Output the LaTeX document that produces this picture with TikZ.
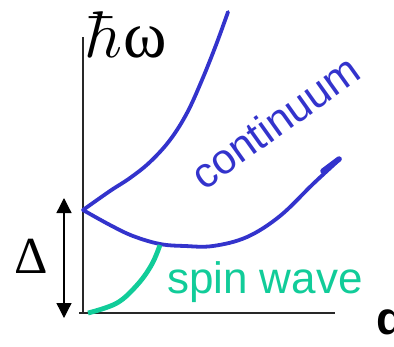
\documentclass[tikz,border=0pt]{standalone}
\usepackage{fontspec}
\newfontfamily\lsans{Liberation Sans}
\newfontfamily\lserif{Liberation Serif}
\usetikzlibrary{arrows.meta}
\definecolor{contblue}{RGB}{51,51,204}
\definecolor{swgreen}{RGB}{17,204,153}
\definecolor{axisgray}{RGB}{40,40,40}
\tikzset{
  axisline/.style={draw=axisgray,line width=1.3pt},
  contcurve/.style={draw=contblue,line width=3.8pt,line cap=round,line join=round},
  swcurve/.style={draw=swgreen,line width=4.8pt,line cap=butt},
  lbl/.style={inner sep=0pt,outer sep=0pt},
  gaparrow/.style={draw=black,line width=1.3pt,{Triangle[width=15pt,length=15pt]}-{Triangle[width=15pt,length=15pt]}}
}
\begin{document}
\begin{tikzpicture}[x=1pt,y=-1pt]
\useasboundingbox (0,0) rectangle (394,346);
% axes
\coordinate (ytop) at (83,37);
\coordinate (ybot) at (83,313);
\coordinate (xleft) at (79,313);
\coordinate (xright) at (335,313);
\draw[axisline] (ytop) -- (ybot);
\draw[axisline] (xleft) -- (xright);
% labels
\node[lbl,anchor=base west] (hw) at (84,57) {\scalebox{6.6}{$\hbar$}\hspace{1pt}{\fontsize{66}{66}\selectfont\lserif ω}};
\node[lbl,anchor=base west] (q) at (376,334) {\fontsize{46}{46}\selectfont\lsans\bfseries q};
\node[lbl,anchor=base west] (delta) at (14,273) {\fontsize{52}{52}\selectfont\lserif Δ};
% gap arrow
\coordinate (gtop) at (64,198);
\coordinate (gbot) at (64,318);
\draw[gaparrow] (gbot) -- (gtop);
% continuum boundaries
\coordinate (kzero) at (83,210);
\draw[contcurve] plot[smooth,tension=0.6] coordinates {(83,210) (110,191) (130,178) (150,162) (170,140) (187,113) (202,80) (216,45) (228,12)};
\draw[contcurve] plot[smooth,tension=0.6] coordinates {(83,210) (110,225) (133,236) (160,244) (185,246) (213,246) (247,237) (280,216) (313,184) (340,159)};
\draw[contcurve,line width=5.5pt] (323,171) -- (339,159);
% spin wave
\draw[swcurve] plot[smooth,tension=0.6] coordinates {(88,313) (117,303) (138,284) (152,264) (160,245)};
\node[lbl,anchor=base west,text=swgreen] (sw) at (167,293) {\fontsize{44}{44}\selectfont\lsans spin wave};
\node[lbl,anchor=base west,text=contblue,rotate=35.5] (cont) at (204,191) {\fontsize{42.5}{42.5}\selectfont\lsans continuum};
\end{tikzpicture}
\end{document}
